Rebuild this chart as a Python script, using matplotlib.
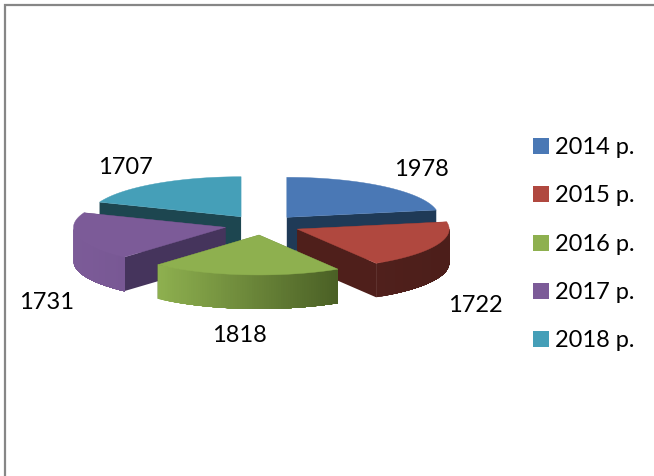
import numpy as np
import matplotlib
matplotlib.use("Agg")
import matplotlib.pyplot as plt
from matplotlib.patches import Polygon, Rectangle
from matplotlib.colors import to_rgb

categories = ["2014 р.", "2015 р.", "2016 р.", "2017 р.", "2018 р."]
values = [1978, 1722, 1818, 1731, 1707]
top_colors = ["#4a78b5", "#b0483f", "#8eb04f", "#7c5b98", "#459fb8"]
wall_colors = ["#1f3a57", "#4f1f1b", "#4d6228", "#45345c", "#1d4650"]
outer_left = ["#4a78b5", "#50201c", "#8eb04f", "#7c5b98", "#459fb8"]
outer_right = ["#2c4a70", "#4c1e1a", "#4a5f25", "#785894", "#2f7486"]
label_xy = [(421, 168), (475, 304), (239, 334), (47, 301), (125, 166)]
legend_y = [146, 194, 243, 291, 339]

plt.rcParams["font.family"] = ["Lato", "Open Sans", "DejaVu Sans"]
FS = 17
CX, CY, RX, RY, DEPTH, EXPLODE = 262.5, 225, 152, 40, 34, 0.25

fig = plt.figure(figsize=(6.54, 4.76), dpi=100)
ax = fig.add_axes([0, 0, 1, 1])
ax.set_xlim(0, 654)
ax.set_ylim(476, 0)
ax.axis("off")

ax.add_patch(Rectangle((5, 5), 700, 520, fc="white", ec="#868686", lw=1.6))

angles = np.concatenate([[0], np.cumsum(values) / np.sum(values) * 360])


def pt(cx, cy, a, r=1.0):
    t = np.radians(a)
    return cx + r * RX * np.sin(t), cy - r * RY * np.cos(t)


def draw_slice(i, z):
    a0, a1 = angles[i], angles[i + 1]
    ox, oy = pt(CX, CY, (a0 + a1) / 2, EXPLODE)
    for a in (a0, a1):
        x, y = pt(ox, oy, a)
        ax.add_patch(Polygon([(ox, oy), (x, y), (x, y + DEPTH), (ox, oy + DEPTH)],
                             fc=wall_colors[i], ec="none", zorder=z))
    # Outer rim: only the part that faces the viewer is visible
    lo, hi = max(a0, 90), min(a1, 270)
    if hi > lo:
        grid = np.linspace(lo, hi, 81)
        xs, ys = pt(ox, oy, grid)
        left, right = np.array(to_rgb(outer_left[i])), np.array(to_rgb(outer_right[i]))
        xmin, xmax = xs.min(), xs.max()
        order = np.argsort(xs)
        xs_s, ys_s = xs[order], ys[order]
        for k in range(len(xs_s) - 1):
            f = (xs_s[k] - xmin) / (xmax - xmin)
            col = left + (right - left) * f
            # each strip runs to the right end, later strips paint over it: no seams
            px = np.r_[xs_s[k:], xs_s[k:][::-1]]
            py = np.r_[ys_s[k:], ys_s[k:][::-1] + DEPTH]
            ax.add_patch(Polygon(np.column_stack([px, py]), fc=col, ec="none", zorder=z + 0.1))
    grid = np.linspace(a0, a1, 81)
    xs, ys = pt(ox, oy, grid)
    ax.add_patch(Polygon(np.column_stack([np.r_[ox, xs], np.r_[oy, ys]]),
                         fc=top_colors[i], ec=top_colors[i], lw=0.3, zorder=z + 0.2))


for z, i in enumerate([4, 0, 3, 1, 2]):
    draw_slice(i, 2 + z)

for v, (x, y) in zip(values, label_xy):
    ax.text(x, y + 1.5, str(v), ha="center", va="center", fontsize=FS, color="black", zorder=10)

for c, col, y in zip(categories, top_colors, legend_y):
    ax.add_patch(Rectangle((533, y - 8), 16, 16, fc=col, ec="none", zorder=10))
    ax.text(555, y + 1.5, c, ha="left", va="center", fontsize=FS, color="black", zorder=10)

fig.savefig("out.png", dpi=100)
